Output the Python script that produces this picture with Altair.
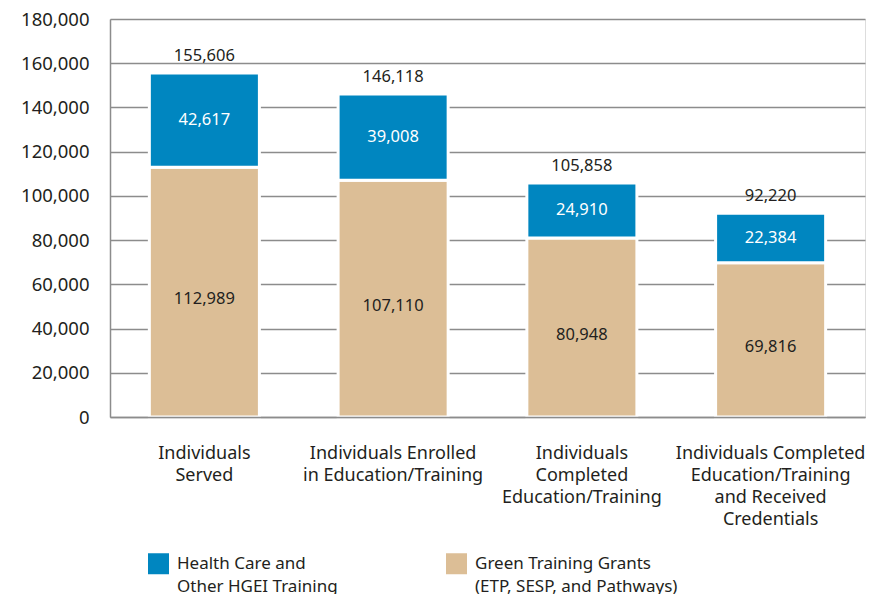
import altair as alt
import pandas as pd

categories = [
    "Individuals\nServed",
    "Individuals Enrolled\nin Education/Training",
    "Individuals\nCompleted\nEducation/Training",
    "Individuals Completed\nEducation/Training\nand Received\nCredentials",
]
series = ["Health Care and\nOther HGEI Training", "Green Training Grants\n(ETP, SESP, and Pathways)"]
health_values = [42617, 39008, 24910, 22384]
green_values = [112989, 107110, 80948, 69816]
total_labels = [155606, 146118, 105858, 92220]
y_ticks = [0, 20000, 40000, 60000, 80000, 100000, 120000, 140000, 160000, 180000]

BLUE = "#0086C0"
TAN = "#DCBE96"
DARK = "#231F20"
FONT = "Noto Sans"

rows = []
for c, g, h in zip(categories, green_values, health_values):
    rows.append({"category": c, "series": series[1], "value": g, "order": 0})
    rows.append({"category": c, "series": series[0], "value": h, "order": 1})
df = pd.DataFrame(rows)
tot = pd.DataFrame({"category": categories, "total": total_labels})

x_axis = alt.Axis(
    title=None,
    labelAngle=0,
    labelExpr="split(datum.label, '\\n')",
    labelFont=FONT,
    labelFontSize=18,
    labelColor=DARK,
    labelLineHeight=22.3,
    labelPadding=27,
    labelBaseline="top",
    ticks=False,
    domainColor="#8c8c8c",
    domainWidth=1.5,
    zindex=1,
    labelLimit=0,
)
x_scale = alt.Scale(paddingInner=0, paddingOuter=0)
x_enc = alt.X("category:N", sort=categories, scale=x_scale, axis=x_axis)
y_scale = alt.Scale(domain=[0, 180000], nice=False)
y_axis = alt.Axis(
    title=None,
    values=y_ticks,
    labelExpr="format(datum.value, ',')",
    labelFont=FONT,
    labelFontSize=18.5,
    labelColor=DARK,
    labelPadding=21,
    ticks=False,
    domainColor="#8c8c8c",
    domainWidth=1.5,
    gridColor="#8c8c8c",
    gridWidth=1.3,
    zindex=0,
)

base = alt.Chart(df).transform_stack(
    stack="value",
    groupby=["category"],
    as_=["v0", "v1"],
    sort=[alt.SortField("order", order="ascending")],
).transform_calculate(mid="(datum.v0 + datum.v1) / 2")

bars = base.mark_bar(width=alt.RelativeBandSize(0.583), stroke="white", strokeWidth=3).encode(
    x=x_enc,
    y=alt.Y("v0:Q", scale=y_scale, axis=y_axis),
    y2="v1:Q",
    color=alt.Color(
        "series:N",
        scale=alt.Scale(domain=series, range=[BLUE, TAN]),
        legend=alt.Legend(
            title=None,
            orient="none",
            legendX=38,
            legendY=534,
            direction="horizontal",
            columns=2,
            columnPadding=108,
            symbolType="square",
            symbolSize=441,
            symbolStrokeWidth=0,
            symbolOpacity=1,
            labelExpr="split(datum.label, '\\n')",
            labelFont=FONT,
            labelFontSize=17,
            labelColor=DARK,
            labelOffset=8,
            labelLimit=0,
            labelBaseline="middle",
        ),
    ),
)

health_text = base.transform_filter(alt.datum.order == 1).mark_text(
    font=FONT, fontSize=16.5, color="white", baseline="middle"
).encode(x=x_enc, y=alt.Y("mid:Q", scale=y_scale, axis=y_axis), text=alt.Text("value:Q", format=","))

green_text = base.transform_filter(alt.datum.order == 0).mark_text(
    font=FONT, fontSize=16.5, color=DARK, baseline="middle", dy=7
).encode(x=x_enc, y=alt.Y("mid:Q", scale=y_scale, axis=y_axis), text=alt.Text("value:Q", format=","))

total_text = alt.Chart(tot).mark_text(
    font=FONT, fontSize=16.5, color=DARK, baseline="alphabetic", dy=-12
).encode(
    x=alt.X("category:N", sort=categories, scale=x_scale, axis=x_axis),
    y=alt.Y("total:Q", scale=y_scale, axis=y_axis),
    text=alt.Text("total:Q", format=","),
)

chart = alt.layer(bars, health_text, green_text, total_text).properties(
    width=755,
    height=398,
    autosize=alt.AutoSizeParams(type="none"),
    padding={"left": 102, "top": 11, "right": 10, "bottom": 177},
).configure_view(stroke=None).configure(
    background="white",
    style={"guide-label": {"lineHeight": 23}},
)

chart.save("out.html", embed_options={"renderer": "svg", "actions": False})
